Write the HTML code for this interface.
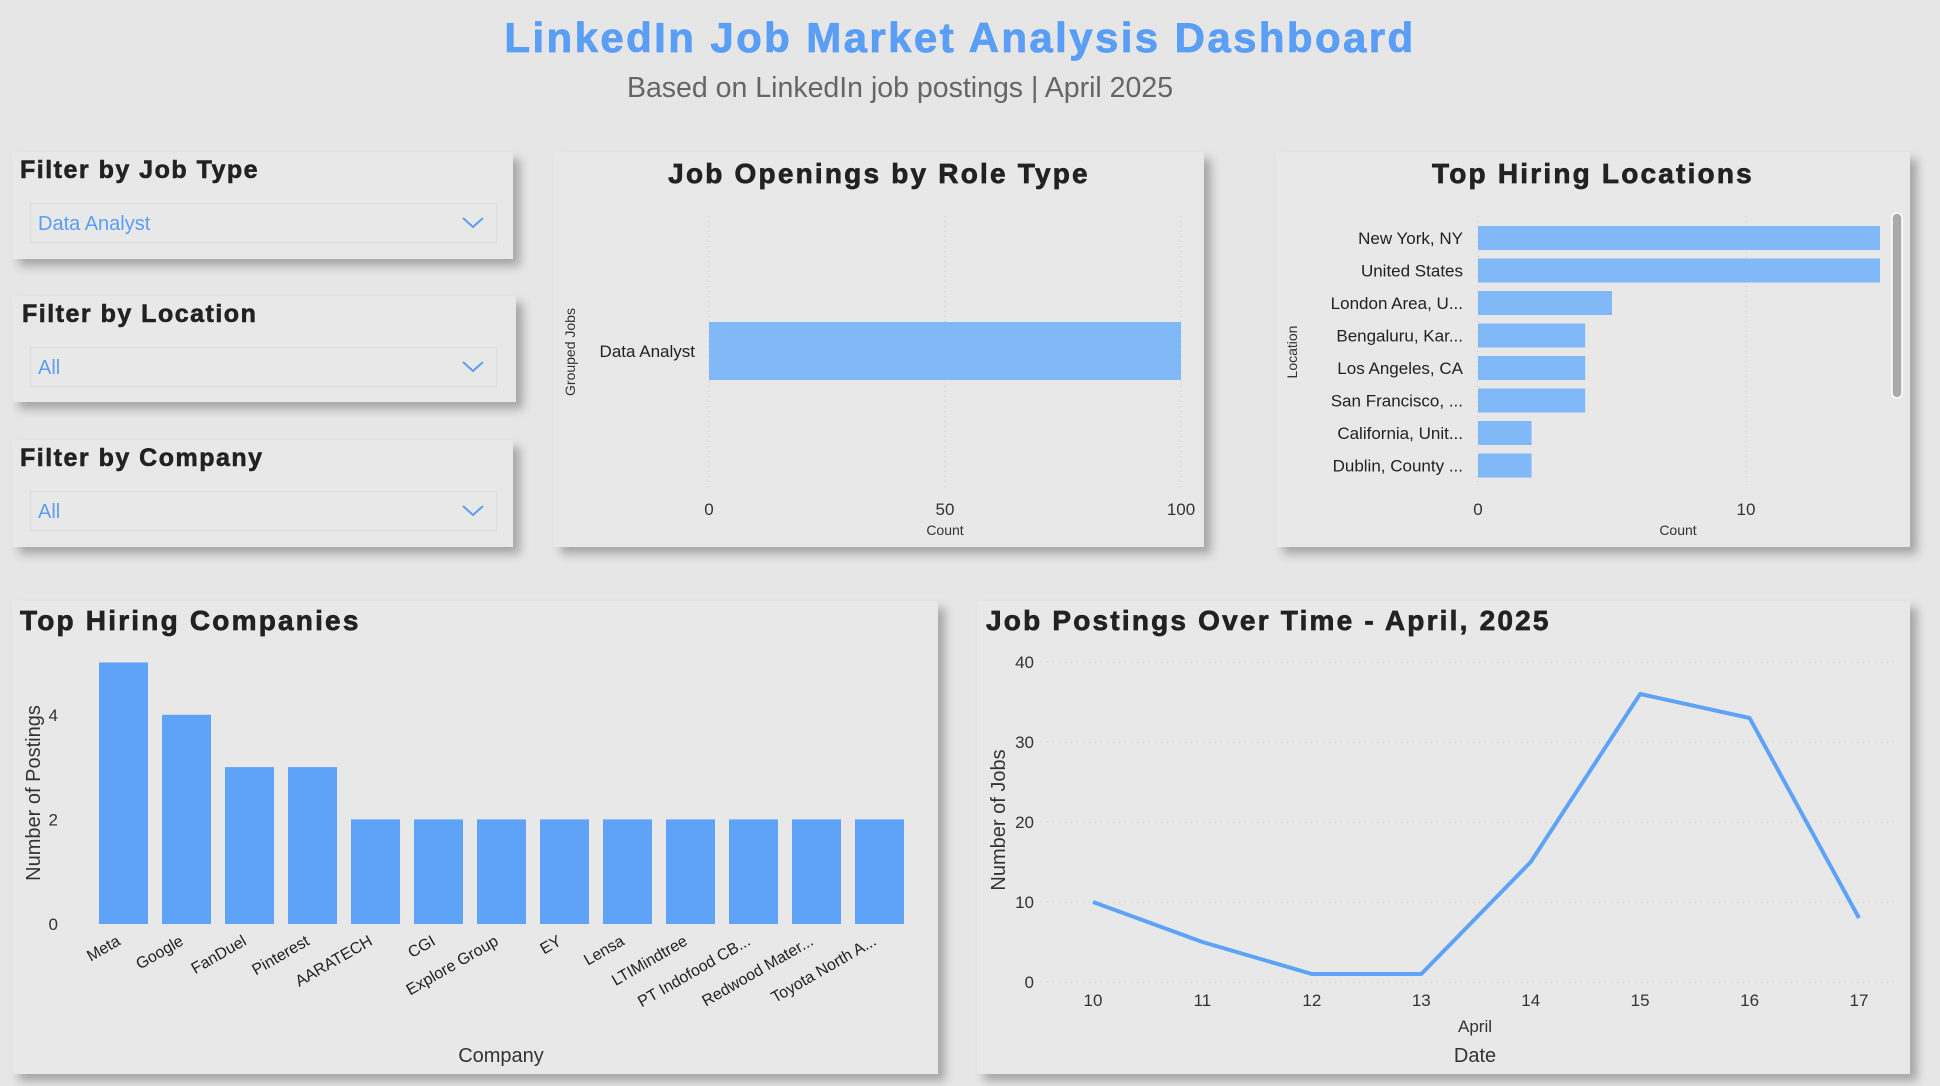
<!DOCTYPE html>
<html><head><meta charset="utf-8">
<style>
body{margin:0;width:1940px;height:1086px;background:#e6e6e6;font-family:"Liberation Sans",sans-serif;overflow:hidden;position:relative}
.panel{position:absolute;background:#e8e8e8;box-shadow:7px 7px 9px rgba(0,0,0,0.28)}
.ftitle{position:absolute;left:8px;top:4px;font-weight:bold;font-size:25px;color:#222;letter-spacing:1.5px;-webkit-text-stroke:0.6px #222}
.dd{position:absolute;left:18px;top:51px;width:467px;height:40px;border:1px solid #dcdcdc;box-sizing:border-box}
.dd span{position:absolute;left:7px;top:9px;font-size:20px;color:#5a9ef5}
.dd svg{position:absolute;right:12px;top:13px}
#title{position:absolute;left:0;width:1920px;text-align:center;top:14px;font-size:42px;font-weight:bold;color:#5a9ef5;letter-spacing:2.4px;-webkit-text-stroke:0.8px #5a9ef5}
#sub{position:absolute;left:0;width:1800px;text-align:center;top:72px;font-size:28.5px;color:#666}
svg text{font-family:"Liberation Sans",sans-serif}
.ct{letter-spacing:2.2px;stroke:#222;stroke-width:0.7px}
</style></head><body>
<div id="title">LinkedIn Job Market Analysis Dashboard</div>
<div id="sub">Based on LinkedIn job postings | April 2025</div>

<div class="panel" style="left:12px;top:152px;width:501px;height:107px">
<div class="ftitle">Filter by Job Type</div>
<div class="dd"><span>Data Analyst</span><svg width="22" height="12"><polyline points="1,1 11,10 21,1" fill="none" stroke="#5a9ef5" stroke-width="2"/></svg></div></div>
<div class="panel" style="left:12px;top:296px;width:504px;height:106px">
<div class="ftitle" style="left:10px">Filter by Location</div>
<div class="dd"><span>All</span><svg width="22" height="12"><polyline points="1,1 11,10 21,1" fill="none" stroke="#5a9ef5" stroke-width="2"/></svg></div></div>
<div class="panel" style="left:12px;top:440px;width:501px;height:107px">
<div class="ftitle">Filter by Company</div>
<div class="dd"><span>All</span><svg width="22" height="12"><polyline points="1,1 11,10 21,1" fill="none" stroke="#5a9ef5" stroke-width="2"/></svg></div></div>

<div class="panel" style="left:554px;top:152px;width:650px;height:395px"></div>
<div class="panel" style="left:1276px;top:152px;width:634px;height:395px"></div>
<div class="panel" style="left:12px;top:601px;width:926px;height:473px"></div>
<div class="panel" style="left:977px;top:601px;width:933px;height:473px"></div>

<svg id="c" width="1940" height="1086" style="position:absolute;left:0;top:0" xmlns="http://www.w3.org/2000/svg">
<text class="ct" x="879" y="183" text-anchor="middle" font-size="28" font-weight="bold" fill="#222">Job Openings by Role Type</text>
<text class="ct" x="1593" y="183" text-anchor="middle" font-size="28" font-weight="bold" fill="#222">Top Hiring Locations</text>
<text class="ct" x="20" y="630" font-size="28" font-weight="bold" fill="#222">Top Hiring Companies</text>
<text class="ct" x="986" y="630" font-size="28" font-weight="bold" fill="#222">Job Postings Over Time - April, 2025</text>
<rect x="1892" y="213" width="10" height="185" rx="5" fill="#aaa" stroke="#fff" stroke-width="1.5"/>
<g id="g1"></g><g id="g2"></g><g id="g3"></g><g id="g4"></g>
</svg>
<script>
const roleCats=["Data Analyst"];
const roleVals=[100];
const roleTicks=[0,50,100];
const locCats=["New York, NY","United States","London Area, U...","Bengaluru, Kar...","Los Angeles, CA","San Francisco, ...","California, Unit...","Dublin, County ..."];
const locVals=[15,15,5,4,4,4,2,2];
const locTicks=[0,10];
const compCats=["Meta","Google","FanDuel","Pinterest","AARATECH","CGI","Explore Group","EY","Lensa","LTIMindtree","PT Indofood CB...","Redwood Mater...","Toyota North A..."];
const compVals=[5,4,3,3,2,2,2,2,2,2,2,2,2];
const compTicks=[0,2,4];
const dates=["10","11","12","13","14","15","16","17"];
const jobs=[10,5,1,1,15,36,33,8];
const jobTicks=[0,10,20,30,40];

const NS="http://www.w3.org/2000/svg";
function mk(p,tag,a,txt){const e=document.createElementNS(NS,tag);for(const k in a)e.setAttribute(k,a[k]);if(txt!==undefined)e.textContent=txt;p.appendChild(e);return e;}

(function(){
const g=document.getElementById('g1');
const x=v=>709+v*(1181-709)/100;
roleTicks.forEach(t=>{
 const l=mk(g,'line',{x1:x(t),x2:x(t),y1:216,y2:489,stroke:'#c8c8c8','stroke-dasharray':'1,4'});
 
 
 const tx=mk(g,'text',{x:x(t),y:515,'text-anchor':'middle','font-size':17,fill:'#333'},t);
 
 
});
roleCats.forEach((c,i)=>{
 const r=mk(g,'rect',{x:x(0),y:322,width:x(roleVals[i])-x(0),height:58,fill:'#80b8f8'});
 
 
 const t=mk(g,'text',{x:695,y:357,'text-anchor':'end','font-size':17,fill:'#222'},c);
 
 
});
const a=mk(g,'text',{x:945,y:535,'text-anchor':'middle','font-size':14,fill:'#333'},'Count');


const b=mk(g,'text',{x:575,y:352,'text-anchor':'middle','font-size':14,fill:'#333',transform:'rotate(-90 575 352)'},'Grouped Jobs');


})();

(function(){
const g=document.getElementById('g2');
const x=v=>1478+v*26.8;
locTicks.forEach(t=>{
 const l=mk(g,'line',{x1:x(t),x2:x(t),y1:216,y2:484,stroke:'#c8c8c8','stroke-dasharray':'1,4'});
 
 
 const tx=mk(g,'text',{x:x(t),y:515,'text-anchor':'middle','font-size':17,fill:'#333'},t);
 
 
});
locCats.forEach((c,i)=>{
 const y=226+i*32.5;
 const r=mk(g,'rect',{x:x(0),y:y,width:x(locVals[i])-x(0),height:24,fill:'#80b8f8'});
 
 
 const t=mk(g,'text',{x:1463,y:y+18,'text-anchor':'end','font-size':17,fill:'#222'},c);
 
 
});
const a=mk(g,'text',{x:1678,y:535,'text-anchor':'middle','font-size':14,fill:'#333'},'Count');


const b=mk(g,'text',{x:1297,y:352,'text-anchor':'middle','font-size':14,fill:'#333',transform:'rotate(-90 1297 352)'},'Location');


})();

(function(){
const g=document.getElementById('g3');
const y=v=>924-v*52.3;
const cx=i=>123.5+i*63;
compTicks.forEach(t=>{
 const tx=mk(g,'text',{x:58,y:y(t)+6,'text-anchor':'end','font-size':17,fill:'#333'},t);
 
 
});
compCats.forEach((c,i)=>{
 const r=mk(g,'rect',{x:cx(i)-24.5,y:y(compVals[i]),width:49,height:y(0)-y(compVals[i]),fill:'#5ea3f7'});
 
 
 const t=mk(g,'text',{x:cx(i)-2,y:944,'text-anchor':'end','font-size':16,fill:'#222',transform:`rotate(-30 ${cx(i)-2} 944)`},c);
 
 
});
const a=mk(g,'text',{x:501,y:1062,'text-anchor':'middle','font-size':20,fill:'#333'},'Company');


const b=mk(g,'text',{x:40,y:793,'text-anchor':'middle','font-size':20,fill:'#333',transform:'rotate(-90 40 793)'},'Number of Postings');


})();

(function(){
const g=document.getElementById('g4');
const y=v=>982-v*8;
const x=i=>1093+i*(1859-1093)/7;
jobTicks.forEach(t=>{
 const l=mk(g,'line',{x1:1047,x2:1898,y1:y(t),y2:y(t),stroke:'#c8c8c8','stroke-dasharray':'1,5'});
 
 
 const tx=mk(g,'text',{x:1034,y:y(t)+6,'text-anchor':'end','font-size':17,fill:'#333'},t);
 
 
});
dates.forEach((d,i)=>{
 const tx=mk(g,'text',{x:x(i),y:1006,'text-anchor':'middle','font-size':17,fill:'#333'},d);
 
 
});
const pts=jobs.map((v,i)=>x(i)+','+y(v)).join(' ');
const pl=mk(g,'polyline',{points:pts,fill:'none',stroke:'#5ea3f7','stroke-width':4,'stroke-linejoin':'round'});


const a1=mk(g,'text',{x:1475,y:1032,'text-anchor':'middle','font-size':17,fill:'#333'},'April');


const a=mk(g,'text',{x:1475,y:1062,'text-anchor':'middle','font-size':20,fill:'#333'},'Date');


const b=mk(g,'text',{x:1005,y:820,'text-anchor':'middle','font-size':20,fill:'#333',transform:'rotate(-90 1005 820)'},'Number of Jobs');


})();
</script>
</body></html>
